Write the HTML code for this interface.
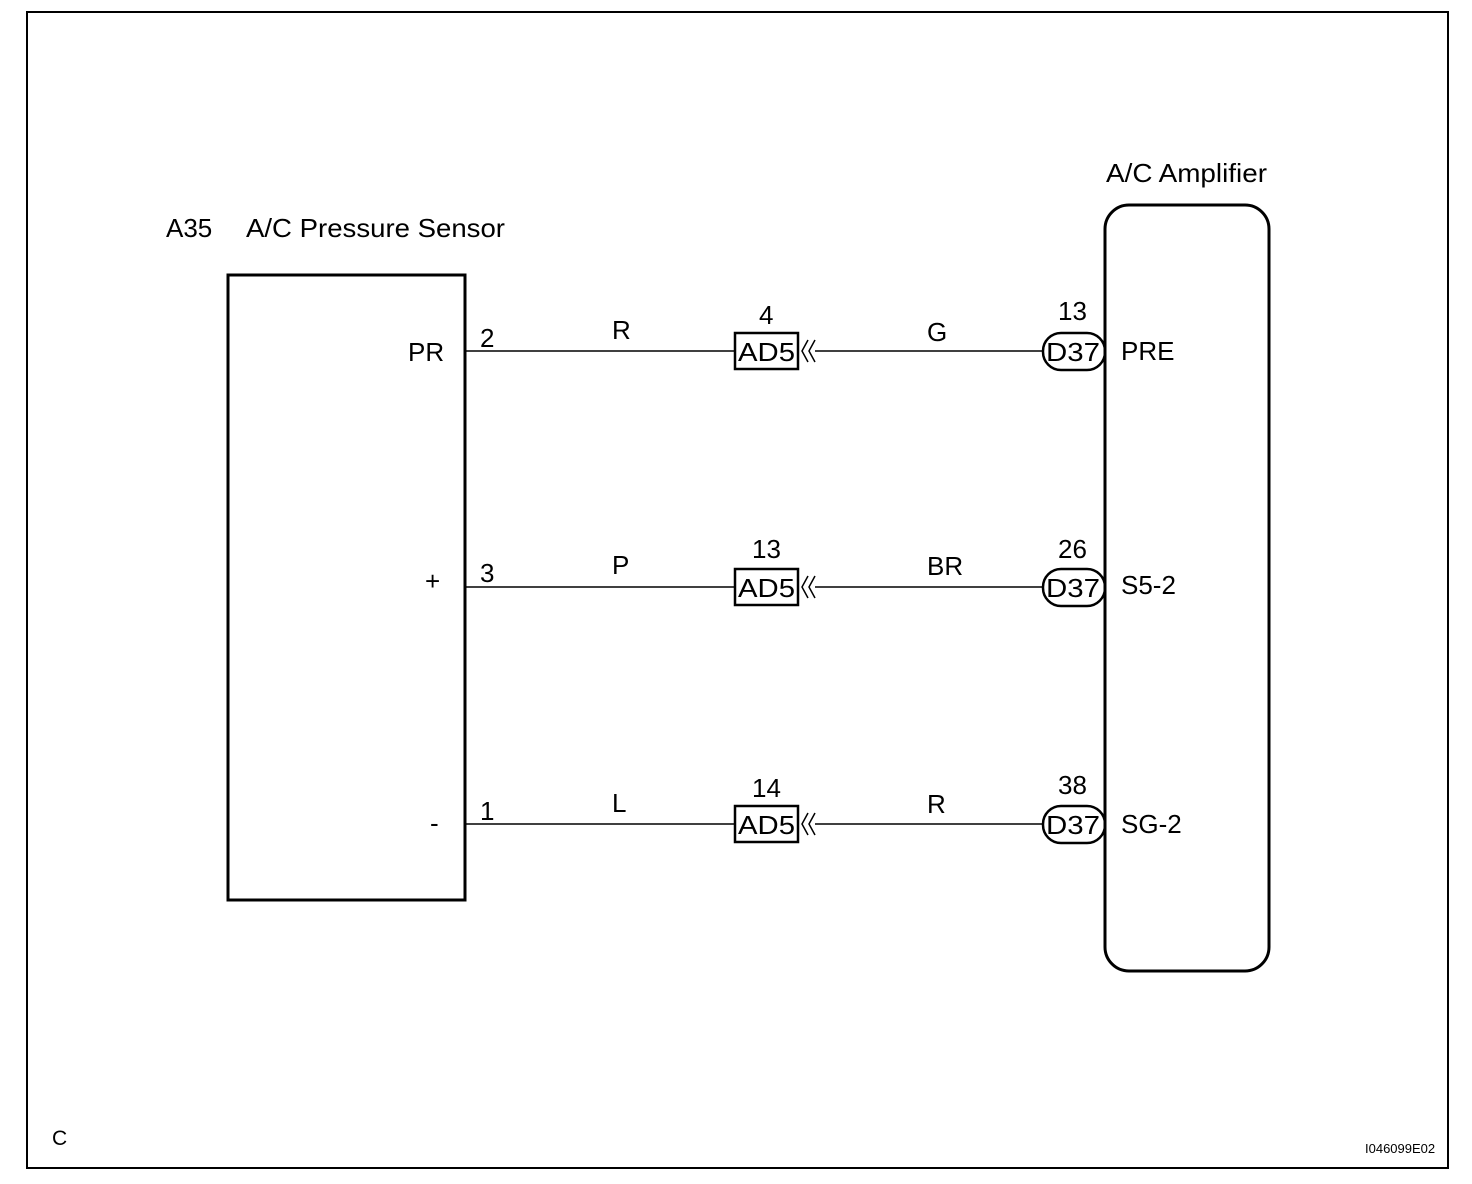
<!DOCTYPE html>
<html><head><meta charset="utf-8"><style>
html,body{margin:0;padding:0;background:#fff}
svg{display:block}
text{font-family:"Liberation Sans",Arial,sans-serif;font-size:26px;fill:#000}
</style></head><body>
<svg width="1472" height="1184" viewBox="0 0 1472 1184">
<rect x="27" y="12" width="1421" height="1156" fill="none" stroke="#000" stroke-width="2"/>
<text x="166" y="237">A35</text>
<text x="246" y="237" textLength="259" lengthAdjust="spacingAndGlyphs">A/C Pressure Sensor</text>
<text x="1106" y="182" textLength="161" lengthAdjust="spacingAndGlyphs">A/C Amplifier</text>
<rect x="228" y="275" width="237" height="625" fill="none" stroke="#000" stroke-width="3"/>
<rect x="1105" y="205" width="164" height="766" rx="24" fill="none" stroke="#000" stroke-width="3"/>
<g id="r1">
<line x1="465" y1="351" x2="735" y2="351" stroke="#000" stroke-width="1.5"/>
<rect x="735" y="333" width="63" height="36" fill="none" stroke="#000" stroke-width="2.5"/>
<text x="738" y="361" textLength="57" lengthAdjust="spacingAndGlyphs">AD5</text>
<path d="M808 340 L802 351 L808 362 M815 340 L809 351 L815 362" fill="none" stroke="#000" stroke-width="1.5"/>
<line x1="815" y1="351" x2="1043" y2="351" stroke="#000" stroke-width="1.5"/>
<rect x="1043" y="333" width="62" height="37" rx="18" fill="none" stroke="#000" stroke-width="2.5"/>
<text x="1046" y="361" textLength="54" lengthAdjust="spacingAndGlyphs">D37</text>
</g>
<use href="#r1" transform="translate(0,236)"/>
<use href="#r1" transform="translate(0,473)"/>
<text x="408" y="361">PR</text><text x="480" y="347">2</text>
<text x="612" y="339">R</text><text x="759" y="324">4</text>
<text x="927" y="341">G</text><text x="1058" y="320">13</text>
<text x="1121" y="360">PRE</text>
<text x="425" y="590">+</text><text x="480" y="582">3</text>
<text x="612" y="574">P</text><text x="752" y="558">13</text>
<text x="927" y="575">BR</text><text x="1058" y="558">26</text>
<text x="1121" y="594">S5-2</text>
<text x="430" y="832">-</text><text x="480" y="820">1</text>
<text x="612" y="812">L</text><text x="752" y="797">14</text>
<text x="927" y="813">R</text><text x="1058" y="794">38</text>
<text x="1121" y="833">SG-2</text>
<text x="52" y="1145" style="font-size:21px">C</text>
<text x="1365" y="1153" style="font-size:13px">I046099E02</text>
</svg>
</body></html>
